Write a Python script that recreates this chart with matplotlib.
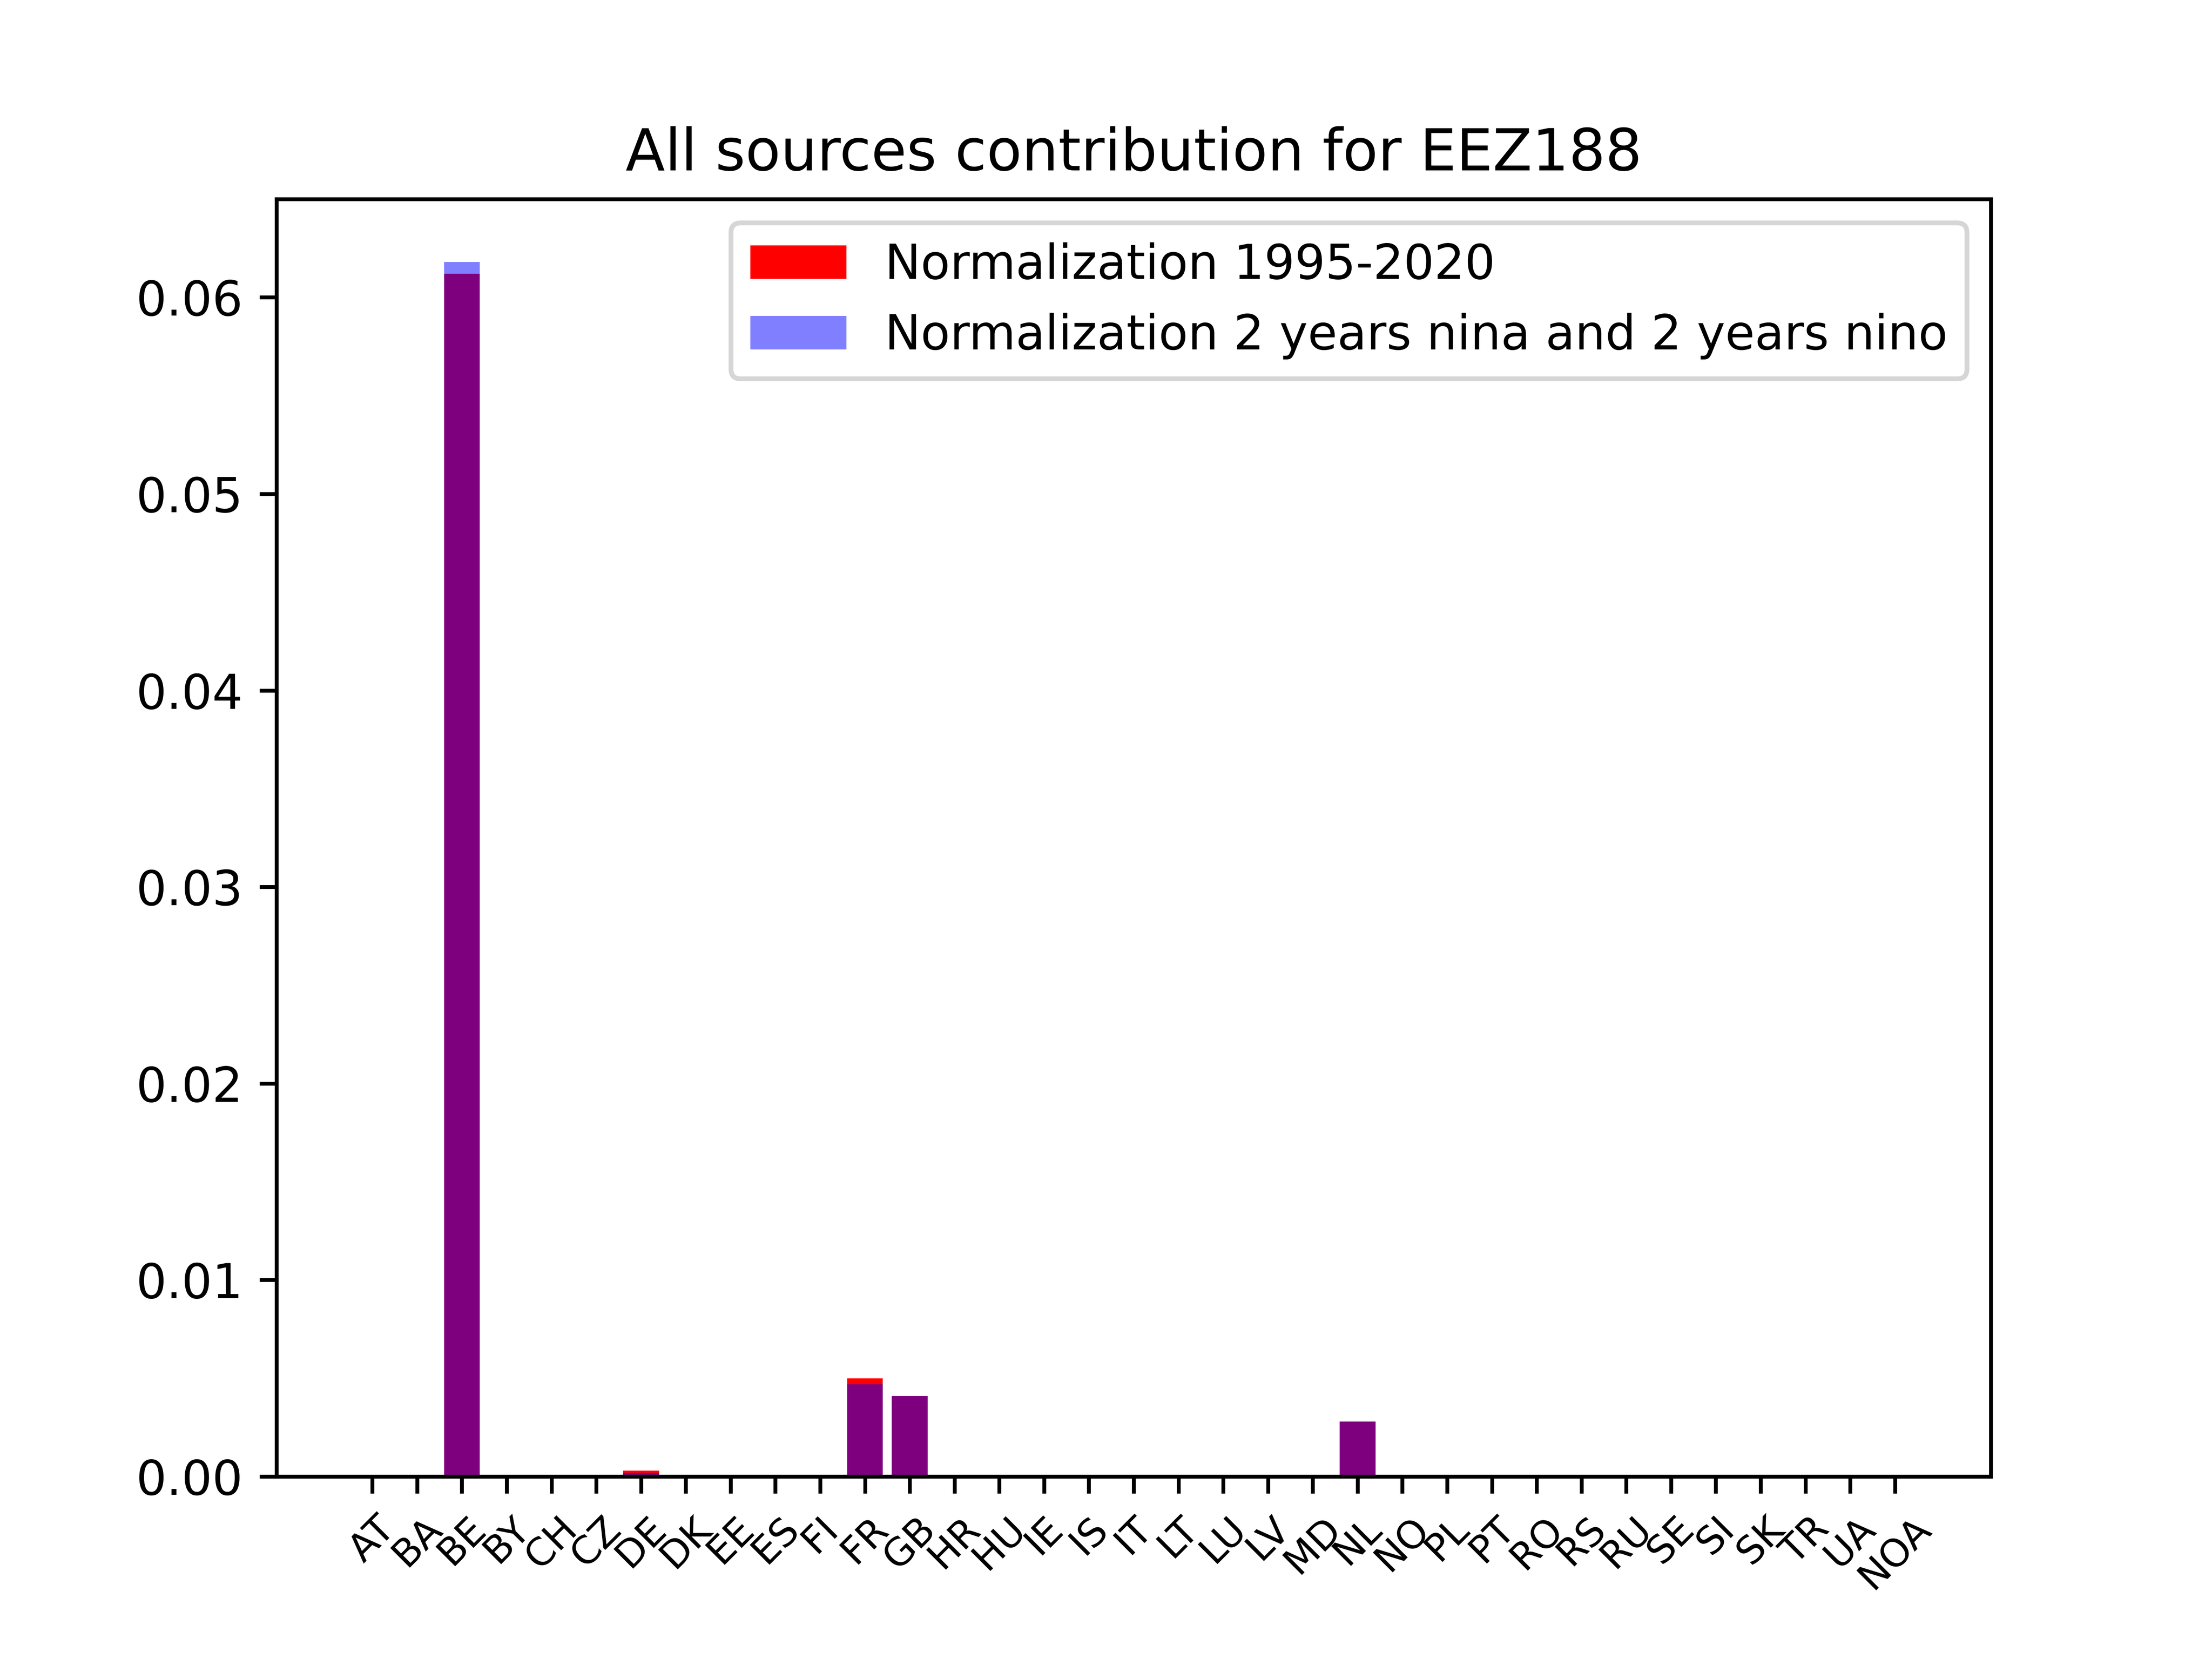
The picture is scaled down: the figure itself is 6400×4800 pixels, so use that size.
import numpy as np
import matplotlib.pyplot as plt

countries = ['AT', 'BA', 'BE', 'BY', 'CH', 'CZ', 'DE', 'DK', 'EE', 'ES', 'FI', 'FR',
             'GB', 'HR', 'HU', 'IE', 'IS', 'IT', 'LT', 'LU', 'LV', 'MD', 'NL', 'NO',
             'PL', 'PT', 'RO', 'RS', 'RU', 'SE', 'SI', 'SK', 'TR', 'UA', 'NOA']

norm_all = [0, 0, 0.0612, 0, 0, 0, 0.0003, 0, 0, 0, 0, 0.0050,
            0.0041, 0, 0, 0, 0, 0, 0, 0, 0, 0, 0.0028, 0,
            0, 0, 0, 0, 0, 0, 0, 0, 0, 0, 0]
norm_enso = [0, 0, 0.0618, 0, 0, 0, 0.0002, 0, 0, 0, 0, 0.0047,
             0.0041, 0, 0, 0, 0, 0, 0, 0, 0, 0, 0.0028, 0,
             0, 0, 0, 0, 0, 0, 0, 0, 0, 0, 0]

fig, ax = plt.subplots(figsize=(6.4, 4.8))
x = np.arange(len(countries))
ax.bar(x, norm_all, color='red', label='Normalization 1995-2020')
ax.bar(x, norm_enso, color='blue', alpha=0.5, label='Normalization 2 years nina and 2 years nino')
ax.set_xticks(x)
ax.set_xticklabels(countries, rotation=45, fontsize=8)
ax.set_ylim(0, 0.065)
ax.legend(loc='upper right')
ax.set_title('All sources contribution for EEZ188')

fig.savefig('out.png', dpi=1000)
